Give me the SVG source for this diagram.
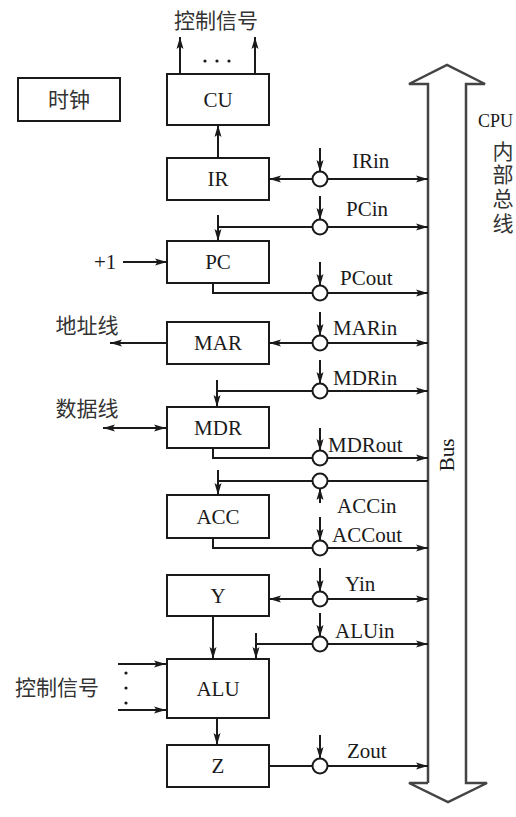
<svg xmlns="http://www.w3.org/2000/svg" width="516" height="817" viewBox="0 0 516 817">
<defs>
<marker id="ah" markerUnits="userSpaceOnUse" viewBox="0 0 12 8" refX="12" refY="4" markerWidth="12" markerHeight="8" orient="auto">
<path d="M0,0.5 L12,4 L0,7.5 L2.5,4 z" fill="#1a1a1a"/>
</marker>
<marker id="ahs" markerUnits="userSpaceOnUse" viewBox="0 0 12 8" refX="0" refY="4" markerWidth="12" markerHeight="8" orient="auto">
<path d="M12,0.5 L0,4 L12,7.5 L9.5,4 z" fill="#1a1a1a"/>
</marker>
</defs>
<style>
.box{fill:#fff;stroke:#1a1a1a;stroke-width:2}
.ln{fill:none;stroke:#1a1a1a;stroke-width:2}
.ar{fill:none;stroke:#1a1a1a;stroke-width:2;marker-end:url(#ah)}
.sw{fill:#fff;stroke:#1a1a1a;stroke-width:2}
.bus{fill:none;stroke:#444;stroke-width:2.5}
.t{font-family:"Liberation Serif","Times New Roman",serif;font-size:21px;fill:#1a1a1a}
.lb{font-family:"Liberation Serif","Times New Roman",serif;font-size:21px;fill:#1a1a1a}
.cn{font-family:"Liberation Serif","Noto Sans CJK SC",serif;font-size:21px;fill:#333}
.m{text-anchor:middle}
</style>
<rect width="516" height="817" fill="#fff"/>

<g id="bus">
<path class="bus" d="M428,783 V84 H409 L447,65 L485,84 H466 V783 H487 L448,802 L409,783 H428"/>
<text class="lb m" transform="translate(454,455) rotate(-90)">Bus</text>
<text class="lb" x="478" y="127" style="font-size:18px">CPU</text>
<text class="cn m" x="503" y="159">内</text>
<text class="cn m" x="503" y="182">部</text>
<text class="cn m" x="503" y="206">总</text>
<text class="cn m" x="503" y="231">线</text>
</g>

<g id="clock"><rect class="box" x="18" y="78" width="102" height="43"/><text class="cn m" x="69" y="107">时钟</text></g>
<g id="cu"><rect class="box" x="167" y="74" width="102" height="51"/><text class="t m" x="218" y="107">CU</text></g>
<g id="ir"><rect class="box" x="167" y="158" width="102" height="42"/><text class="t m" x="218" y="186">IR</text></g>
<g id="pc"><rect class="box" x="167" y="241" width="102" height="42"/><text class="t m" x="218" y="269">PC</text></g>
<g id="mar"><rect class="box" x="167" y="322" width="102" height="42"/><text class="t m" x="218" y="350">MAR</text></g>
<g id="mdr"><rect class="box" x="167" y="407" width="102" height="41"/><text class="t m" x="218" y="435">MDR</text></g>
<g id="acc"><rect class="box" x="167" y="495" width="102" height="43"/><text class="t m" x="218" y="524">ACC</text></g>
<g id="y"><rect class="box" x="167" y="575" width="102" height="41"/><text class="t m" x="218" y="603">Y</text></g>
<g id="alu"><rect class="box" x="167" y="659" width="102" height="59"/><text class="t m" x="218" y="696">ALU</text></g>
<g id="z"><rect class="box" x="167" y="745" width="102" height="42"/><text class="t m" x="218" y="773">Z</text></g>

<g id="connectors">
<line class="ar" x1="180" y1="74" x2="180" y2="37"/>
<line class="ar" x1="255" y1="74" x2="255" y2="37"/>
<circle cx="205" cy="61" r="1.6" fill="#1a1a1a"/><circle cx="217" cy="61" r="1.6" fill="#1a1a1a"/><circle cx="229" cy="61" r="1.6" fill="#1a1a1a"/>
<text class="cn m" x="216" y="28">控制信号</text>
<line class="ar" x1="218" y1="158" x2="218" y2="125"/>
<line class="ar" x1="313" y1="179" x2="269" y2="179"/>
<line class="ar" x1="328" y1="179" x2="428" y2="179"/>
<line class="ar" x1="320" y1="148" x2="320" y2="172"/>
<circle class="sw" cx="320" cy="179" r="7.5"/>
<text class="lb" x="352" y="168">IRin</text>
<path class="ln" d="M313,227 H218"/>
<line class="ar" x1="218" y1="215" x2="218" y2="241"/>
<line class="ar" x1="328" y1="227" x2="428" y2="227"/>
<line class="ar" x1="320" y1="196" x2="320" y2="220"/>
<circle class="sw" cx="320" cy="227" r="7.5"/>
<text class="lb" x="346" y="216">PCin</text>
<text class="lb" x="94" y="269">+1</text>
<line class="ar" x1="123" y1="262" x2="167" y2="262"/>
<path class="ln" d="M213,283 V293 H313"/>
<line class="ar" x1="328" y1="293" x2="428" y2="293"/>
<line class="ar" x1="320" y1="262" x2="320" y2="286"/>
<circle class="sw" cx="320" cy="293" r="7.5"/>
<text class="lb" x="340" y="285">PCout</text>
<line class="ar" x1="313" y1="343" x2="269" y2="343"/>
<line class="ar" x1="328" y1="343" x2="428" y2="343"/>
<line class="ar" x1="320" y1="312" x2="320" y2="336"/>
<circle class="sw" cx="320" cy="343" r="7.5"/>
<text class="lb" x="333" y="335">MARin</text>
<line class="ar" x1="167" y1="343" x2="110" y2="343"/>
<text class="cn m" x="87" y="333">地址线</text>
<path class="ln" d="M313,391 H217"/>
<line class="ar" x1="217" y1="380" x2="217" y2="407"/>
<line class="ar" x1="328" y1="391" x2="428" y2="391"/>
<line class="ar" x1="320" y1="360" x2="320" y2="384"/>
<circle class="sw" cx="320" cy="391" r="7.5"/>
<text class="lb" x="333" y="385">MDRin</text>
<line class="ar" x1="103" y1="428" x2="166" y2="428" style="marker-start:url(#ahs)"/>
<text class="cn m" x="87" y="416">数据线</text>
<path class="ln" d="M213,448 V458 H313"/>
<line class="ar" x1="328" y1="458" x2="428" y2="458"/>
<line class="ar" x1="320" y1="428" x2="320" y2="451"/>
<circle class="sw" cx="320" cy="458" r="7.5"/>
<text class="lb" x="328" y="452">MDRout</text>
<path class="ln" d="M428,481 H313 M313,481 H218"/>
<line class="ar" x1="218" y1="470" x2="218" y2="495"/>
<line class="ar" x1="320" y1="503" x2="320" y2="488"/>
<circle class="sw" cx="320" cy="481" r="7.5"/>
<text class="lb" x="337" y="513">ACCin</text>
<path class="ln" d="M213,538 V548 H313"/>
<line class="ar" x1="328" y1="548" x2="428" y2="548"/>
<line class="ar" x1="320" y1="517" x2="320" y2="541"/>
<circle class="sw" cx="320" cy="548" r="7.5"/>
<text class="lb" x="332" y="542">ACCout</text>
<line class="ar" x1="313" y1="599" x2="269" y2="599"/>
<line class="ar" x1="328" y1="599" x2="428" y2="599"/>
<line class="ar" x1="320" y1="568" x2="320" y2="592"/>
<circle class="sw" cx="320" cy="599" r="7.5"/>
<text class="lb" x="345" y="591">Yin</text>
<path class="ln" d="M313,644 H256"/>
<line class="ar" x1="256" y1="633" x2="256" y2="659"/>
<line class="ar" x1="328" y1="644" x2="428" y2="644"/>
<line class="ar" x1="320" y1="613" x2="320" y2="637"/>
<circle class="sw" cx="320" cy="644" r="7.5"/>
<text class="lb" x="335" y="638">ALUin</text>
<line class="ar" x1="213" y1="616" x2="213" y2="659"/>
<line class="ar" x1="217" y1="718" x2="217" y2="745"/>
<line class="ar" x1="118" y1="664" x2="166" y2="664"/>
<line class="ar" x1="118" y1="710" x2="166" y2="710"/>
<circle cx="126" cy="673" r="1.6" fill="#1a1a1a"/><circle cx="126" cy="688" r="1.6" fill="#1a1a1a"/><circle cx="126" cy="703" r="1.6" fill="#1a1a1a"/>
<text class="cn m" x="57" y="695">控制信号</text>
<line class="ln" x1="269" y1="766" x2="313" y2="766"/>
<line class="ar" x1="328" y1="766" x2="428" y2="766"/>
<line class="ar" x1="320" y1="735" x2="320" y2="759"/>
<circle class="sw" cx="320" cy="766" r="7.5"/>
<text class="lb" x="347" y="758">Zout</text>
</g>
</svg>
